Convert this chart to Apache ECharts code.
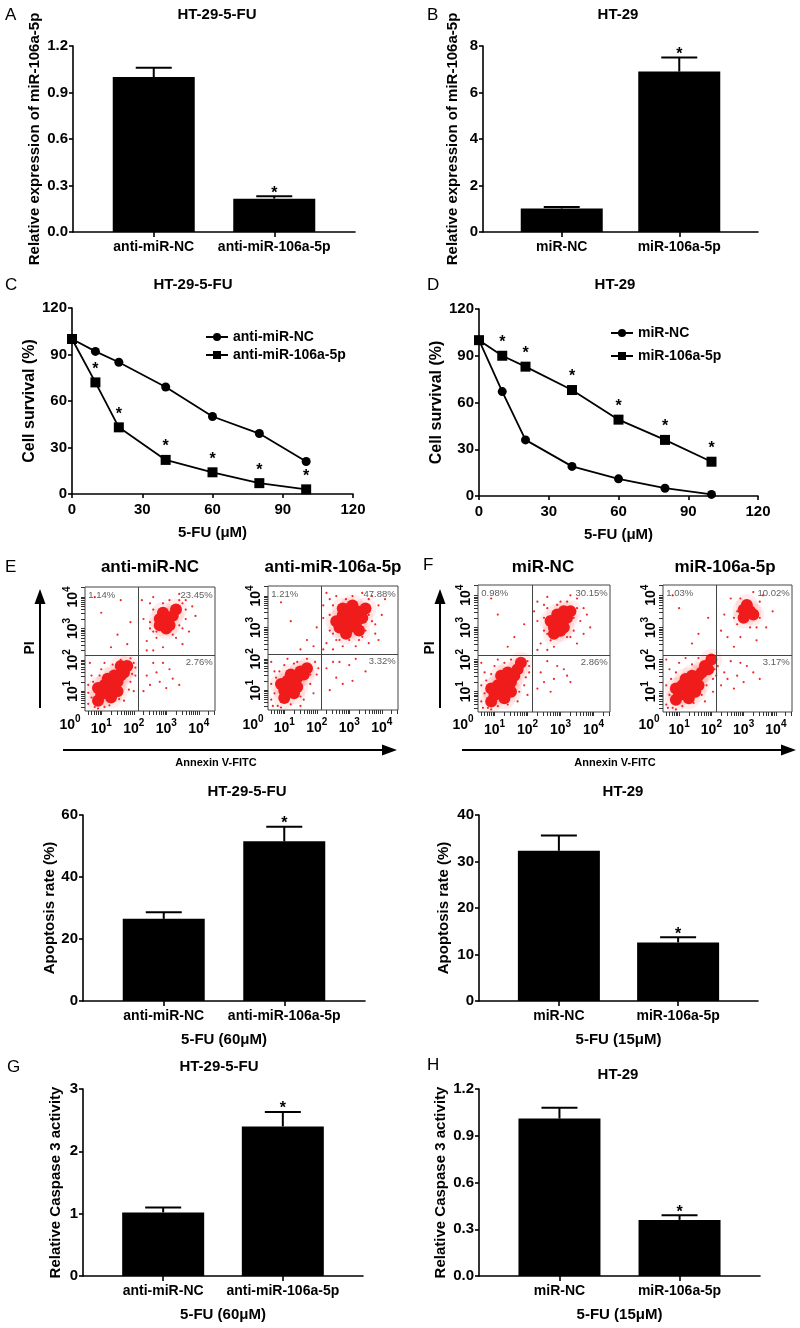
<!DOCTYPE html>
<html>
<head>
<meta charset="utf-8">
<script src="https://cdn.jsdelivr.net/npm/echarts@6/dist/echarts.min.js"></script>
<style>
html, body { margin: 0; padding: 0; background: #fff; }
#chart { width: 800px; height: 1328px; }
</style>
</head>
<body>
<div id="chart"></div>
<script>
// ---- data ----
var catsResist = ['anti-miR-NC', 'anti-miR-106a-5p'];
var catsParent = ['miR-NC', 'miR-106a-5p'];

// A / B : relative miR-106a-5p expression
var exprA = [1.00, 0.215];
var exprAErr = [0.06, 0.015];
var exprASig = [0, 1];
var exprB = [1.01, 6.90];
var exprBErr = [0.06, 0.61];
var exprBSig = [0, 1];

// C / D : cell survival vs 5-FU dose
var doses = [0, 10, 20, 40, 60, 80, 100];
var survC_NC = [100, 92, 85, 69, 50, 39, 21];
var survC_106 = [100, 72, 43, 22, 14, 7, 3];
var survD_NC = [100, 67, 36, 19, 11, 5, 1];
var survD_106 = [100, 90, 83, 68, 49, 36, 22];
var survSig = [0, 1, 1, 1, 1, 1, 1];

// E / F : apoptosis rate
var apopE = [26.5, 51.5];
var apopEErr = [2.1, 4.7];
var apopESig = [0, 1];
var apopF = [32.3, 12.6];
var apopFErr = [3.3, 1.1];
var apopFSig = [0, 1];

// G / H : caspase 3 activity
var caspG = [1.02, 2.40];
var caspGErr = [0.08, 0.23];
var caspGSig = [0, 1];
var caspH = [1.01, 0.36];
var caspHErr = [0.07, 0.03];
var caspHSig = [0, 1];

// flow plots, quadrant percentages (UL, UR, LR)
var pctE1 = ['1.14%', '23.45%', '2.76%'];
var pctE2 = ['1.21%', '47.88%', '3.32%'];
var pctF1 = ['0.98%', '30.15%', '2.86%'];
var pctF2 = ['1.03%', '10.02%', '3.17%'];

// flow plot events, log10 units (dense cores and sparse events)
var coreE1 = [[1.0,0.9],[1.2,1.0],[1.4,1.1],[1.1,1.2],[1.3,1.3],[1.5,1.3],[1.6,1.5],[1.4,1.5],[1.7,1.6],[1.2,1.4],[0.9,1.1],[1.8,1.8],[1.5,1.0],[1.3,0.8],[0.9,0.7],[1.6,1.8],
  [2.8,3.1],[3.0,3.3],[3.2,3.4],[2.9,3.5],[3.1,3.1],[3.3,3.6],[2.8,3.3],[3.0,3.0]];
var dotsE1 = [[0.6,0.6],[0.7,1.5],[0.8,0.5],[1.0,1.7],[1.9,1.3],[2.0,1.9],[2.05,1.5],[1.7,0.7],[0.65,1.9],[1.5,1.9],[1.9,2.05],[0.9,0.45],[2.0,1.0],[1.1,1.9],[0.6,1.2],
  [0.7,0.8],[0.75,1.3],[1.0,0.6],[1.25,0.55],[1.55,0.75],[1.85,1.05],[1.95,1.55],[1.75,1.95],[1.35,1.85],[0.95,1.5],[0.6,0.95],[2.05,1.75],[1.1,0.5],[1.6,2.0],
  [2.4,2.6],[2.5,3.8],[3.6,3.9],[3.7,2.9],[2.3,3.3],[3.5,2.5],[2.6,2.3],[3.9,3.4],[2.25,3.9],[3.4,4.1],[2.9,2.4],[3.8,3.7],[2.6,4.0],[3.3,2.7],[2.5,3.0],[3.6,3.3],[2.7,2.7],[3.1,3.9],[2.4,2.3],[3.5,3.0],
  [2.5,3.2],[2.6,3.6],[2.7,2.9],[3.4,3.1],[3.5,3.8],[3.2,2.8],[2.9,3.8],[3.4,3.9],[2.6,2.9],[3.6,3.6],
  [2.4,1.5],[2.8,1.3],[3.1,1.7],[2.6,1.9],[3.4,1.2],[2.3,1.0],[2.9,1.9],[3.2,1.4],[2.5,1.2],[2.7,1.6],[3.0,1.1],
  [1.0,3.5],[1.5,2.8],[0.8,4.0],[1.9,3.2],[1.3,2.4],[1.8,2.5],[1.6,3.9]];

var coreE2 = [[1.0,1.0],[1.2,1.1],[1.3,1.3],[1.1,1.3],[1.4,1.4],[1.5,1.6],[1.6,1.5],[1.2,1.5],[0.9,1.2],[1.7,1.7],[1.4,1.1],[1.0,0.75],[1.3,0.9],
  [2.7,3.0],[2.9,3.2],[3.1,3.3],[3.3,3.5],[2.8,3.4],[3.0,3.6],[3.2,3.1],[3.4,3.3],[2.6,3.2],[3.0,3.0],[3.1,3.7],[2.9,2.8],[3.5,3.6],[2.8,3.6],[3.3,2.9]];
var dotsE2 = [[0.6,0.7],[0.7,1.6],[0.8,0.5],[1.0,1.8],[1.8,1.2],[1.95,1.9],[2.0,1.5],[1.6,0.7],[0.6,1.9],[1.4,1.9],[0.9,0.45],[1.9,0.9],[1.1,2.0],[0.6,1.2],
  [0.7,0.9],[0.75,1.4],[1.2,0.55],[1.5,0.8],[1.8,1.5],[1.7,2.0],[1.3,1.85],[0.85,1.6],[2.05,1.7],[1.5,0.5],[0.65,0.5],
  [2.3,2.5],[2.4,3.9],[3.7,4.0],[3.8,2.8],[2.2,3.3],[3.6,2.5],[2.5,2.3],[4.0,3.4],[2.3,4.1],[3.4,4.1],[2.8,2.4],[3.9,3.7],[2.6,4.0],[3.3,2.6],[2.4,2.9],[3.7,3.2],[2.6,2.6],[3.1,4.0],[2.2,2.3],[3.5,2.9],[4.1,3.9],[3.9,2.6],[2.2,3.7],[3.2,2.4],
  [2.4,3.4],[2.5,3.7],[2.7,2.6],[3.6,3.4],[3.6,3.9],[3.4,2.7],[2.9,3.9],[3.8,3.1],[2.5,2.8],[3.0,2.6],
  [2.3,1.7],[2.6,1.4],[3.0,1.8],[2.8,1.2],[3.5,1.6],[2.4,1.0],[3.2,2.0],[2.7,1.9],[3.1,1.3],[2.5,1.9],
  [1.2,3.2],[1.7,2.6],[0.9,3.8],[2.0,3.0],[1.5,2.3],[1.9,2.4]];

var coreF1 = [[1.0,0.9],[1.2,1.0],[1.4,1.2],[1.1,1.2],[1.3,1.4],[1.5,1.3],[1.6,1.5],[1.4,1.6],[1.7,1.7],[1.2,1.5],[0.9,1.1],[1.8,1.9],[1.5,1.0],[1.3,0.8],[0.9,0.7],
  [2.8,3.0],[3.0,3.2],[3.2,3.3],[2.9,3.4],[3.1,3.0],[3.3,3.5],[2.7,3.2],[3.0,2.9],[3.1,3.5],[2.8,2.8]];
var dotsF1 = [[0.6,0.7],[0.7,1.6],[0.8,0.5],[1.0,1.8],[1.9,1.2],[2.0,1.95],[2.05,1.6],[1.7,0.7],[0.6,1.9],[1.5,2.0],[0.9,0.45],[2.0,0.9],[1.1,2.0],[0.6,1.2],[1.8,2.05],
  [0.7,0.95],[0.75,1.35],[1.1,0.55],[1.4,0.6],[1.75,1.0],[1.95,1.45],[1.7,2.0],[1.3,1.9],[0.9,1.55],[2.05,1.8],[0.65,0.5],
  [2.4,2.5],[2.5,3.7],[3.5,3.9],[3.7,2.8],[2.3,3.2],[3.5,2.5],[2.6,2.3],[3.8,3.4],[2.3,3.8],[3.3,4.0],[2.8,2.4],[3.7,3.6],[2.6,3.95],[3.3,2.7],[2.5,2.9],[3.6,3.2],[2.7,2.6],[3.0,3.8],[2.3,2.3],[3.4,2.9],[2.2,3.5],[3.9,3.0],
  [2.5,3.3],[2.6,3.6],[3.4,3.3],[3.5,3.6],[3.2,2.7],[2.9,3.7],[2.6,2.8],[3.2,3.8],
  [2.4,1.6],[2.8,1.4],[3.1,1.7],[2.6,1.95],[3.3,1.3],[2.3,1.1],[2.9,1.8],[3.2,1.5],[2.5,1.3],[2.7,1.0],
  [1.1,3.4],[1.6,2.7],[0.9,3.9],[1.9,3.1],[1.4,2.4]];

var coreF2 = [[1.0,0.9],[1.2,1.0],[1.4,1.1],[1.1,1.2],[1.3,1.3],[1.5,1.3],[1.6,1.5],[1.4,1.5],[1.7,1.6],[1.8,1.8],[1.2,1.4],[0.9,1.1],[1.9,1.7],[1.5,1.0],[1.3,0.8],[2.0,2.0],[1.6,1.2],[0.9,0.75],
  [3.0,3.3],[3.2,3.5],[3.1,3.7],[3.3,3.4],[3.0,3.55]];
var dotsF2 = [[0.6,0.6],[0.7,1.7],[0.8,0.5],[1.0,1.9],[2.05,1.4],[2.1,2.0],[2.1,1.7],[1.8,0.7],[0.6,2.0],[1.6,2.05],[0.9,0.45],[2.05,1.0],[1.2,2.05],[0.6,1.2],[2.2,1.8],[0.7,0.9],
  [0.75,1.4],[1.1,0.55],[1.45,0.65],[1.85,1.2],[1.95,2.05],[1.4,1.85],[0.9,1.6],[0.65,0.5],[2.15,1.5],[1.7,0.9],
  [2.5,2.7],[2.6,3.9],[3.6,4.0],[3.7,3.0],[2.4,3.4],[3.4,2.6],[2.7,2.4],[3.9,3.5],[2.8,3.1],[3.5,3.8],[2.9,2.7],[3.3,4.1],[2.3,2.9],
  [2.8,3.5],[2.9,3.9],[3.5,3.3],[3.4,3.0],[3.2,3.0],[2.7,3.3],
  [2.4,1.6],[2.8,1.5],[3.1,1.8],[2.6,1.95],[3.5,1.4],[2.3,1.2],[2.9,1.9],[3.3,1.6],[2.5,1.4],[2.7,1.1],[3.0,1.3],
  [1.0,3.6],[1.6,2.8],[0.8,4.0],[1.9,3.3],[1.4,2.5]];

var quadCut = 2.15;

// ---- building ----
var FONT = '"Liberation Sans", Arial, Helvetica, sans-serif';
var grids = [], xAxes = [], yAxes = [], series = [], legends = [], graphics = [];

function boldText(size) {
    return { fontFamily: FONT, fontWeight: 'bold', fontSize: size, color: '#000' };
}

function errorBar(params, api) {
    var x = api.value(0);
    var top = api.coord([x, api.value(1)]);
    var base = api.coord([x, api.value(2)]);
    var half = 18;
    var kids = [
        { type: 'line', shape: { x1: top[0], y1: base[1], x2: top[0], y2: top[1] }, style: { stroke: '#000', lineWidth: 2 } },
        { type: 'line', shape: { x1: top[0] - half, y1: top[1], x2: top[0] + half, y2: top[1] }, style: { stroke: '#000', lineWidth: 2 } }
    ];
    if (api.value(3)) {
        kids.push({
            type: 'text', x: top[0], y: top[1] - 3,
            style: { text: '*', font: 'bold 16px ' + FONT, fill: '#000', align: 'center', verticalAlign: 'middle', textAlign: 'center', textVerticalAlign: 'middle' }
        });
    }
    return { type: 'group', children: kids };
}

function addBarPanel(g, cats, mean, err, sig, yMax, yStep, decimals, yName, yGap, xName) {
    var gi = grids.length;
    grids.push(g);
    xAxes.push({
        gridIndex: gi, type: 'value', min: 0.33, max: 2.67,
        axisLine: { show: true, lineStyle: { color: '#000', width: 1.6 } },
        axisTick: { show: true, customValues: [1, 2], length: 5, lineStyle: { color: '#000', width: 1.6 } },
        axisLabel: Object.assign({ customValues: [1, 2], margin: 8, formatter: function (v) { return cats[Math.round(v) - 1]; } }, boldText(14)),
        splitLine: { show: false },
        name: xName || '', nameLocation: 'middle', nameGap: 31, nameTextStyle: boldText(15)
    });
    yAxes.push({
        gridIndex: gi, type: 'value', min: 0, max: yMax, interval: yStep,
        axisLine: { show: true, lineStyle: { color: '#000', width: 1.6 } },
        axisTick: { show: true, length: 4, lineStyle: { color: '#000', width: 1.6 } },
        axisLabel: Object.assign({ margin: 5, formatter: function (v) { return v.toFixed(decimals); } }, boldText(15)),
        splitLine: { show: false },
        name: yName, nameLocation: 'middle', nameGap: yGap, nameTextStyle: boldText(15)
    });
    series.push({
        type: 'bar', xAxisIndex: gi, yAxisIndex: gi, barWidth: 82, silent: true,
        itemStyle: { color: '#000' },
        data: mean.map(function (v, i) { return [i + 1, v]; })
    });
    series.push({
        type: 'custom', xAxisIndex: gi, yAxisIndex: gi, silent: true, z: 3, clip: false,
        renderItem: errorBar, encode: { x: 0, y: 1 },
        data: mean.map(function (v, i) { return [i + 1, v + err[i], v, sig[i]]; })
    });
}

function addLinePanel(g, names, valsNC, vals106, yGap, legendPos) {
    var gi = grids.length;
    grids.push(g);
    var axisStyle = {
        axisLine: { show: true, lineStyle: { color: '#000', width: 1.6 } },
        axisTick: { show: true, length: 4, lineStyle: { color: '#000', width: 1.6 } },
        splitLine: { show: false }
    };
    xAxes.push(Object.assign({
        gridIndex: gi, type: 'value', min: 0, max: 120, interval: 30,
        axisLabel: Object.assign({ margin: 8 }, boldText(15)),
        name: '5-FU (\u03bcM)', nameLocation: 'middle', nameGap: 31, nameTextStyle: boldText(15)
    }, axisStyle));
    yAxes.push(Object.assign({
        gridIndex: gi, type: 'value', min: 0, max: 120, interval: 30,
        axisLabel: Object.assign({ margin: 5 }, boldText(15)),
        name: 'Cell survival (%)', nameLocation: 'middle', nameGap: yGap, nameTextStyle: boldText(16)
    }, axisStyle));
    series.push({
        name: names[0], type: 'line', xAxisIndex: gi, yAxisIndex: gi,
        symbol: 'circle', symbolSize: 9, silent: true,
        lineStyle: { color: '#000', width: 1.8 }, itemStyle: { color: '#000' },
        data: doses.map(function (d, i) { return [d, valsNC[i]]; })
    });
    series.push({
        name: names[1], type: 'line', xAxisIndex: gi, yAxisIndex: gi,
        symbol: 'rect', symbolSize: 10, silent: true,
        lineStyle: { color: '#000', width: 1.8 }, itemStyle: { color: '#000' },
        label: {
            show: true, position: 'top', distance: 0,
            fontFamily: FONT, fontWeight: 'bold', fontSize: 16, color: '#000',
            formatter: function (p) { return survSig[p.dataIndex] ? '*' : ''; }
        },
        data: doses.map(function (d, i) { return [d, vals106[i]]; })
    });
    legends.push(Object.assign({
        data: names, orient: 'vertical', itemWidth: 22, itemHeight: 10,
        textStyle: boldText(14), selectedMode: false
    }, legendPos));
}

function logTicks(lo, hi) {
    var t = [];
    for (var d = 0; d < 5; d++) {
        for (var k = 1; k < 10; k++) {
            var v = d + Math.log10(k);
            if (v >= lo && v <= hi) t.push(v);
        }
    }
    return t;
}

var powerRich = {
    b: { fontFamily: FONT, fontWeight: 'bold', fontSize: 14, color: '#000', verticalAlign: 'bottom', lineHeight: 18 },
    s: { fontFamily: FONT, fontWeight: 'bold', fontSize: 10, color: '#000', verticalAlign: 'top', lineHeight: 18 }
};
function powerLabel(v) { return '{b|10}{s|' + Math.round(v) + '}'; }

function addFlowPanel(g, core, dots, pct) {
    var gi = grids.length;
    g.show = true;
    g.borderColor = '#444';
    g.borderWidth = 1;
    grids.push(g);
    var xMin = 0.5, xMax = 4.5, yMin = 0.37, yMax = 4.32;
    var tickStyle = { color: '#333', width: 1 };
    xAxes.push({
        gridIndex: gi, type: 'value', min: xMin, max: xMax,
        axisLine: { show: false },
        axisTick: { show: true, customValues: logTicks(xMin, xMax), length: 4, lineStyle: tickStyle },
        axisLabel: { customValues: [1, 2, 3, 4], margin: 7, formatter: powerLabel, rich: powerRich },
        splitLine: { show: false }
    });
    yAxes.push({
        gridIndex: gi, type: 'value', min: yMin, max: yMax,
        axisLine: { show: false },
        axisTick: { show: true, customValues: logTicks(yMin, yMax), length: 4, lineStyle: tickStyle },
        axisLabel: { customValues: [1, 2, 3, 4], margin: 5, rotate: 90, formatter: powerLabel, rich: powerRich },
        splitLine: { show: false }
    });
    // soft fringe, then solid core of each population
    series.push({
        type: 'scatter', xAxisIndex: gi, yAxisIndex: gi, silent: true,
        symbolSize: 22, itemStyle: { color: 'rgba(255,70,70,0.12)', borderWidth: 0 },
        data: core
    });
    series.push({
        type: 'scatter', xAxisIndex: gi, yAxisIndex: gi, silent: true,
        symbolSize: 12, itemStyle: { color: '#f01c1c', opacity: 1, borderWidth: 0 },
        data: core
    });
    series.push({
        type: 'scatter', xAxisIndex: gi, yAxisIndex: gi, silent: true,
        symbolSize: 2.2, itemStyle: { color: '#f02828', opacity: 1, borderWidth: 0 },
        data: dots,
        markLine: {
            silent: true, symbol: 'none', animation: false,
            label: { show: false },
            lineStyle: { color: '#444', width: 1, type: 'solid' },
            data: [{ xAxis: quadCut }, { yAxis: quadCut }]
        }
    });
    series.push({
        type: 'scatter', xAxisIndex: gi, yAxisIndex: gi, silent: true, symbolSize: 0, z: 5,
        label: { show: true, position: 'inside', formatter: '{b}', fontFamily: FONT, fontSize: 9.5, color: '#333' },
        data: [
            { name: pct[0], value: [0.6, 4.05], label: { align: 'left' } },
            { name: pct[1], value: [4.43, 4.05], label: { align: 'right' } },
            { name: pct[2], value: [4.43, 1.92], label: { align: 'right' } }
        ]
    });
}

// panels
addBarPanel({ left: 73, top: 46, width: 282, height: 186 }, catsResist, exprA, exprAErr, exprASig, 1.2, 0.3, 1, 'Relative expression of miR-106a-5p', 31);
addBarPanel({ left: 483, top: 46, width: 275, height: 186 }, catsParent, exprB, exprBErr, exprBSig, 8, 2, 0, 'Relative expression of miR-106a-5p', 23);
addLinePanel({ left: 72, top: 308, width: 281, height: 186 }, ['anti-miR-NC', 'anti-miR-106a-5p'], survC_NC, survC_106, 29, { left: 200, top: 325, itemGap: 4 });
addLinePanel({ left: 479, top: 309, width: 279, height: 187 }, ['miR-NC', 'miR-106a-5p'], survD_NC, survD_106, 24, { left: 605, top: 321, itemGap: 9 });
addFlowPanel({ left: 85, top: 587, width: 130, height: 124 }, coreE1, dotsE1, pctE1);
addFlowPanel({ left: 268, top: 586, width: 130, height: 124 }, coreE2, dotsE2, pctE2);
addFlowPanel({ left: 478, top: 585, width: 132, height: 127 }, coreF1, dotsF1, pctF1);
addFlowPanel({ left: 663, top: 585, width: 129, height: 127 }, coreF2, dotsF2, pctF2);
addBarPanel({ left: 83, top: 815, width: 282, height: 186 }, catsResist, apopE, apopEErr, apopESig, 60, 20, 0, 'Apoptosis rate (%)', 23, '5-FU (60\u03bcM)');
addBarPanel({ left: 479, top: 815, width: 279, height: 186 }, catsParent, apopF, apopFErr, apopFSig, 40, 10, 0, 'Apoptosis rate (%)', 28, '5-FU (15\u03bcM)');
addBarPanel({ left: 83, top: 1089, width: 280, height: 187 }, catsResist, caspG, caspGErr, caspGSig, 3, 1, 0, 'Relative Caspase 3 activity', 20, '5-FU (60\u03bcM)');
addBarPanel({ left: 479, top: 1089, width: 281, height: 187 }, catsParent, caspH, caspHErr, caspHSig, 1.2, 0.3, 1, 'Relative Caspase 3 activity', 31, '5-FU (15\u03bcM)');

// free text and arrows
function txt(x, y, text, size, weight, align, rot) {
    graphics.push({
        type: 'text', x: x, y: y, rotation: rot || 0, silent: true,
        style: {
            text: text, fill: '#000', font: (weight || 'bold') + ' ' + size + 'px ' + FONT,
            align: align || 'center', verticalAlign: 'middle',
            textAlign: align || 'center', textVerticalAlign: 'middle'
        }
    });
}
[['A', 5, 15], ['B', 427, 15], ['C', 5, 285], ['D', 427, 285], ['E', 5, 567], ['F', 423, 565], ['G', 7, 1067], ['H', 427, 1065]]
    .forEach(function (l) { txt(l[1], l[2], l[0], 17, 'normal', 'left'); });

txt(217, 15, 'HT-29-5-FU', 15);
txt(618, 15, 'HT-29', 15);
txt(193, 285, 'HT-29-5-FU', 15);
txt(615, 285, 'HT-29', 15);
txt(247, 792, 'HT-29-5-FU', 15);
txt(623, 792, 'HT-29', 15);
txt(219, 1067, 'HT-29-5-FU', 15);
txt(618, 1075, 'HT-29', 15);

txt(150, 567, 'anti-miR-NC', 17);
txt(333, 567, 'anti-miR-106a-5p', 17);
txt(543, 567, 'miR-NC', 17);
txt(725, 567, 'miR-106a-5p', 17);

// 10^0 corner labels of the flow plots
[70, 253, 463, 649].forEach(function (x) {
    graphics.push({
        type: 'text', x: x, y: 723, silent: true,
        style: { text: '{b|10}{s|0}', rich: powerRich, align: 'center', verticalAlign: 'middle', textAlign: 'center', textVerticalAlign: 'middle' }
    });
});

function arrow(x1, y1, x2, y2) {
    var dx = x2 - x1, dy = y2 - y1, len = Math.sqrt(dx * dx + dy * dy);
    var ux = dx / len, uy = dy / len, hl = 15, hw = 5.5;
    var bx = x2 - ux * hl, by = y2 - uy * hl;
    graphics.push({ type: 'line', silent: true, shape: { x1: x1, y1: y1, x2: bx, y2: by }, style: { stroke: '#000', lineWidth: 2 } });
    graphics.push({
        type: 'polygon', silent: true,
        shape: { points: [[x2, y2], [bx - uy * hw, by + ux * hw], [bx + uy * hw, by - ux * hw]] },
        style: { fill: '#000' }
    });
}
arrow(40, 708, 40, 589);
arrow(63, 750, 397, 750);
arrow(440, 708, 440, 589);
arrow(462, 750, 796, 750);
txt(30, 648, 'PI', 14, 'bold', 'center', Math.PI / 2);
txt(430, 648, 'PI', 14, 'bold', 'center', Math.PI / 2);
txt(216, 763, 'Annexin V-FITC', 11);
txt(615, 763, 'Annexin V-FITC', 11);

var myChart = echarts.init(document.getElementById('chart'));
myChart.setOption({
    animation: false,
    backgroundColor: '#fff',
    textStyle: { fontFamily: FONT },
    grid: grids.map(function (g) { return Object.assign({ outerBoundsMode: 'none', containLabel: false }, g); }),
    xAxis: xAxes,
    yAxis: yAxes,
    legend: legends,
    series: series,
    graphic: graphics
});
</script>
</body>
</html>
